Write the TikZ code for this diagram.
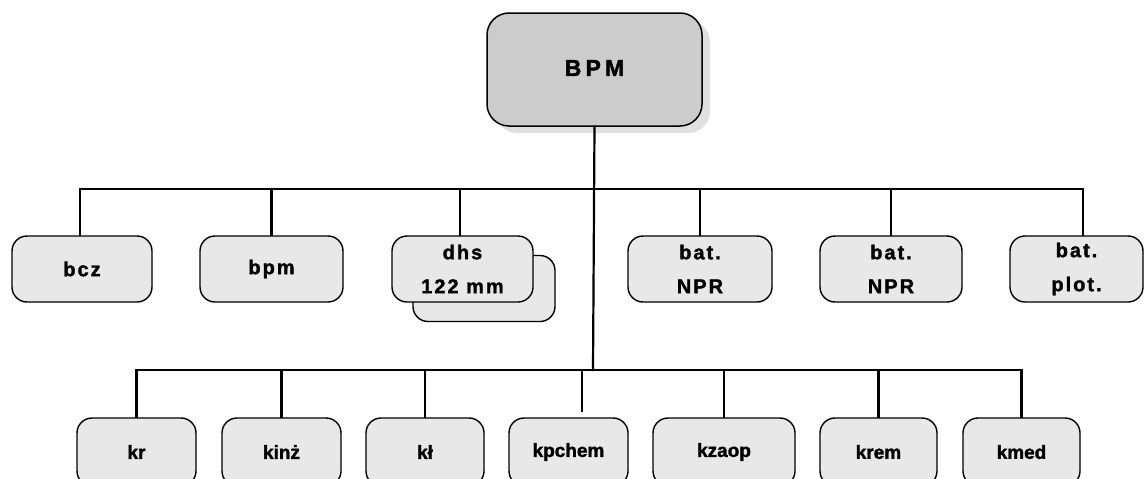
\documentclass[tikz,border=0pt]{standalone}
\usepackage{fontspec}
\newfontfamily\spacedfont[LetterSpace=10,FakeBold=1.6]{Liberation Sans}
\newfontfamily\bigspacedfont[LetterSpace=18,FakeBold=1.8]{Liberation Sans}
\newfontfamily\plainfont[FakeBold=1.6]{Liberation Sans}
\tikzset{
  conn/.style={line width=2.2pt, line cap=rect},
  topbox/.style={draw, line width=1.5pt, rounded corners=22pt, fill=black!20,
    minimum width=215pt, minimum height=113pt, inner sep=0pt,
    font=\bigspacedfont\bfseries\fontsize{23}{26}\selectfont},
  topshadow/.style={fill=black!12, rounded corners=22pt,
    minimum width=215pt, minimum height=113pt, inner sep=0pt},
  rowbox/.style={draw, line width=1.4pt, rounded corners=15pt, fill=black!9,
    minimum height=66pt, inner sep=0pt, align=center,
    font=\spacedfont\bfseries\fontsize{20}{34}\selectfont},
  lowbox/.style={draw, line width=1.4pt, rounded corners=15pt, fill=black!9,
    minimum height=68pt, inner sep=0pt, align=center,
    font=\plainfont\bfseries\fontsize{19}{22}\selectfont}
}
\begin{document}
\begin{tikzpicture}[x=1pt,y=-1pt]
\useasboundingbox (0,0) rectangle (1146,479);
\clip (0,0) rectangle (1146,479);
\fill[white] (0,0) rectangle (1146,479);

% top node with shadow
\node[topshadow] (BPMshadow) at (602.5,76.5) {};
\node[topbox] (BPM) at (594.5,69.5) {\raisebox{3pt}{BPM}};

% first row
\node[rowbox, minimum width=140pt] (bcz) at (82,269) {bcz};
\node[rowbox, minimum width=143pt] (bpm) at (271.5,269) {bpm};
\node[rowbox, minimum width=142pt] (dhsshadow) at (484,288.5) {};
\node[rowbox, minimum width=141pt] (dhs) at (462.5,269) {dhs\\122 mm};
\node[rowbox, minimum width=144pt] (npr1) at (700,269) {bat.\\NPR};
\node[rowbox, minimum width=142pt] (npr2) at (891,269) {bat.\\NPR};
\node[rowbox, minimum width=133pt] (plot) at (1076.5,269) {bat.\\plot.};

% second row
\node[lowbox, minimum width=119pt] (kr) at (136.5,452) {kr};
\node[lowbox, minimum width=119pt] (kinz) at (281.5,452) {kinż};
\node[lowbox, minimum width=118pt] (kl) at (425,452) {kł};
\node[lowbox, minimum width=119pt] (kpchem) at (568.5,452) {kpchem};
\node[lowbox, minimum width=142pt] (kzaop) at (724,452) {kzaop};
\node[lowbox, minimum width=117pt] (krem) at (878.5,452) {krem};
\node[lowbox, minimum width=117pt] (kmed) at (1021.5,452) {kmed};

% bus coordinates
\coordinate (tb) at (593,189);
\coordinate (bb) at (593,370);

% main trunk
\draw[conn] (BPM.south) -- (bb);

% top bus
\draw[conn] ([xshift=-2pt]bcz.north) |- (tb) -| ([xshift=6.5pt]plot.north);
\draw[conn] (bpm.north) -- (bpm.north |- tb);
\draw[conn] ([xshift=-2.5pt]dhs.north) -- ([xshift=-2.5pt]dhs.north |- tb);
\draw[conn] (npr1.north) -- (npr1.north |- tb);
\draw[conn] (npr2.north) -- (npr2.north |- tb);

% bottom bus
\draw[conn] (kr.north) |- (bb) -| (kmed.north);
\draw[conn] (kinz.north) -- (kinz.north |- bb);
\draw[conn] (kl.north) -- (kl.north |- bb);
\coordinate (kpend) at ([xshift=13.5pt,yshift=6pt]kpchem.north);
\draw[conn] (kpend) -- (kpend |- bb);
\draw[conn] (kzaop.north) -- (kzaop.north |- bb);
\draw[conn] (krem.north) -- (krem.north |- bb);
\end{tikzpicture}
\end{document}
